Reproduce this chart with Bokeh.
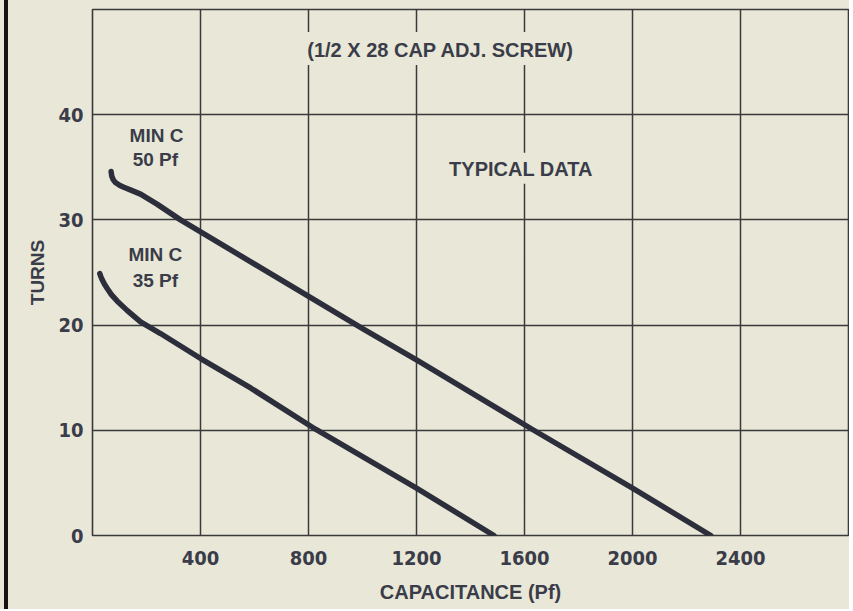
from bokeh.plotting import figure
from bokeh.models import FixedTicker, Label, Range1d
from bokeh.core.properties import value
from bokeh.embed import file_html
from bokeh.resources import INLINE

# ---- data ----
cap_50pf = [69, 71, 76, 85, 100, 116, 140, 178, 239, 326, 1005, 1200, 1628, 2000, 2290]
turns_50pf = [34.6, 34.2, 33.85, 33.55, 33.3, 33.1, 32.85, 32.45, 31.5, 30.0, 19.6, 16.7, 10.1, 4.5, 0.0]

cap_35pf = [27, 31, 36, 44, 54, 70, 91, 128, 178, 252, 402, 587, 826, 1200, 1487]
turns_35pf = [24.9, 24.6, 24.3, 23.9, 23.5, 22.9, 22.3, 21.4, 20.3, 19.2, 16.8, 14.0, 10.1, 4.5, 0.0]

x_ticks = [400, 800, 1200, 1600, 2000, 2400]
y_ticks = [0, 10, 20, 30, 40]

title_text = "(1/2 X 28 CAP ADJ. SCREW)"
note_text = "TYPICAL DATA"
label_50 = ["MIN C", "50 Pf"]
label_35 = ["MIN C", "35 Pf"]

# ---- styling ----
BG = "#e9e7d7"
INK = "#2c2f3b"
GRID = "#3a3a3c"
TXT = "#3a3d49"
NARROW = "DejaVu Sans Condensed, Liberation Sans Narrow, Roboto, sans-serif"

p = figure(width=849, height=609, output_backend="svg", toolbar_location=None,
           x_range=Range1d(0, 2800), y_range=Range1d(0, 50),
           min_border_left=92, min_border_right=1, min_border_top=9, min_border_bottom=74)
p.background_fill_color = BG
p.border_fill_color = None
p.styles = {"background": f"linear-gradient(to right, {BG} 0px, {BG} 4px, #141414 4px, #141414 8px, {BG} 8px, {BG} 100%)"}
p.outline_line_color = GRID
p.outline_line_width = 1.6

for ax in (p.xaxis, p.yaxis):
    ax.axis_line_color = None
    ax.major_tick_line_color = None
    ax.minor_tick_line_color = None
    ax.major_label_text_font = NARROW
    ax.major_label_text_font_style = "bold"
    ax.major_label_text_font_size = "20px"
    ax.major_label_text_color = TXT
    ax.axis_label_text_font = "Liberation Sans"
    ax.axis_label_text_font_style = "bold"
    ax.axis_label_text_color = TXT

p.xaxis.axis_label_text_font_size = "20px"
p.yaxis.axis_label_text_font_size = "19px"
p.xaxis.ticker = FixedTicker(ticks=x_ticks)
p.yaxis.ticker = FixedTicker(ticks=y_ticks)
p.xaxis.major_label_standoff = 9
p.yaxis.major_label_standoff = 3
p.xaxis.axis_label = "CAPACITANCE (Pf)"
p.yaxis.axis_label = "TURNS"
p.xaxis.axis_label_standoff = 13
p.yaxis.axis_label_standoff = 7

p.grid.grid_line_color = GRID
p.grid.grid_line_width = 1.5

p.line(cap_50pf, turns_50pf, line_color=INK, line_width=5.5, line_cap="round", line_join="round")
p.line(cap_35pf, turns_35pf, line_color=INK, line_width=5.5, line_cap="round", line_join="round")

p.add_layout(Label(x=1267, y=46.3, text=title_text, text_align="center", text_baseline="middle",
                   text_font="Liberation Sans", text_font_style="bold", text_font_size="20px",
                   text_color=TXT, background_fill_color=BG, padding=(16, 4, 7, 4)))
p.add_layout(Label(x=1585, y=34.9, text=note_text, text_align="center", text_baseline="middle",
                   text_font="Liberation Sans", text_font_style="bold", text_font_size="20px",
                   text_color=TXT, background_fill_color=BG, padding=(5, 4, 5, 4)))

p.text(x=[237, 233], y=[38.0, 35.7], text=label_50, text_align="center", text_baseline="middle",
       text_font=value("Liberation Sans"), text_font_style="bold", text_font_size="19px",
       text_color=TXT)
p.text(x=[233, 233], y=[26.7, 24.2], text=label_35, text_align="center", text_baseline="middle",
       text_font=value("Liberation Sans"), text_font_style="bold", text_font_size="19px",
       text_color=TXT)

open("out.html", "w").write(file_html(p, INLINE))
